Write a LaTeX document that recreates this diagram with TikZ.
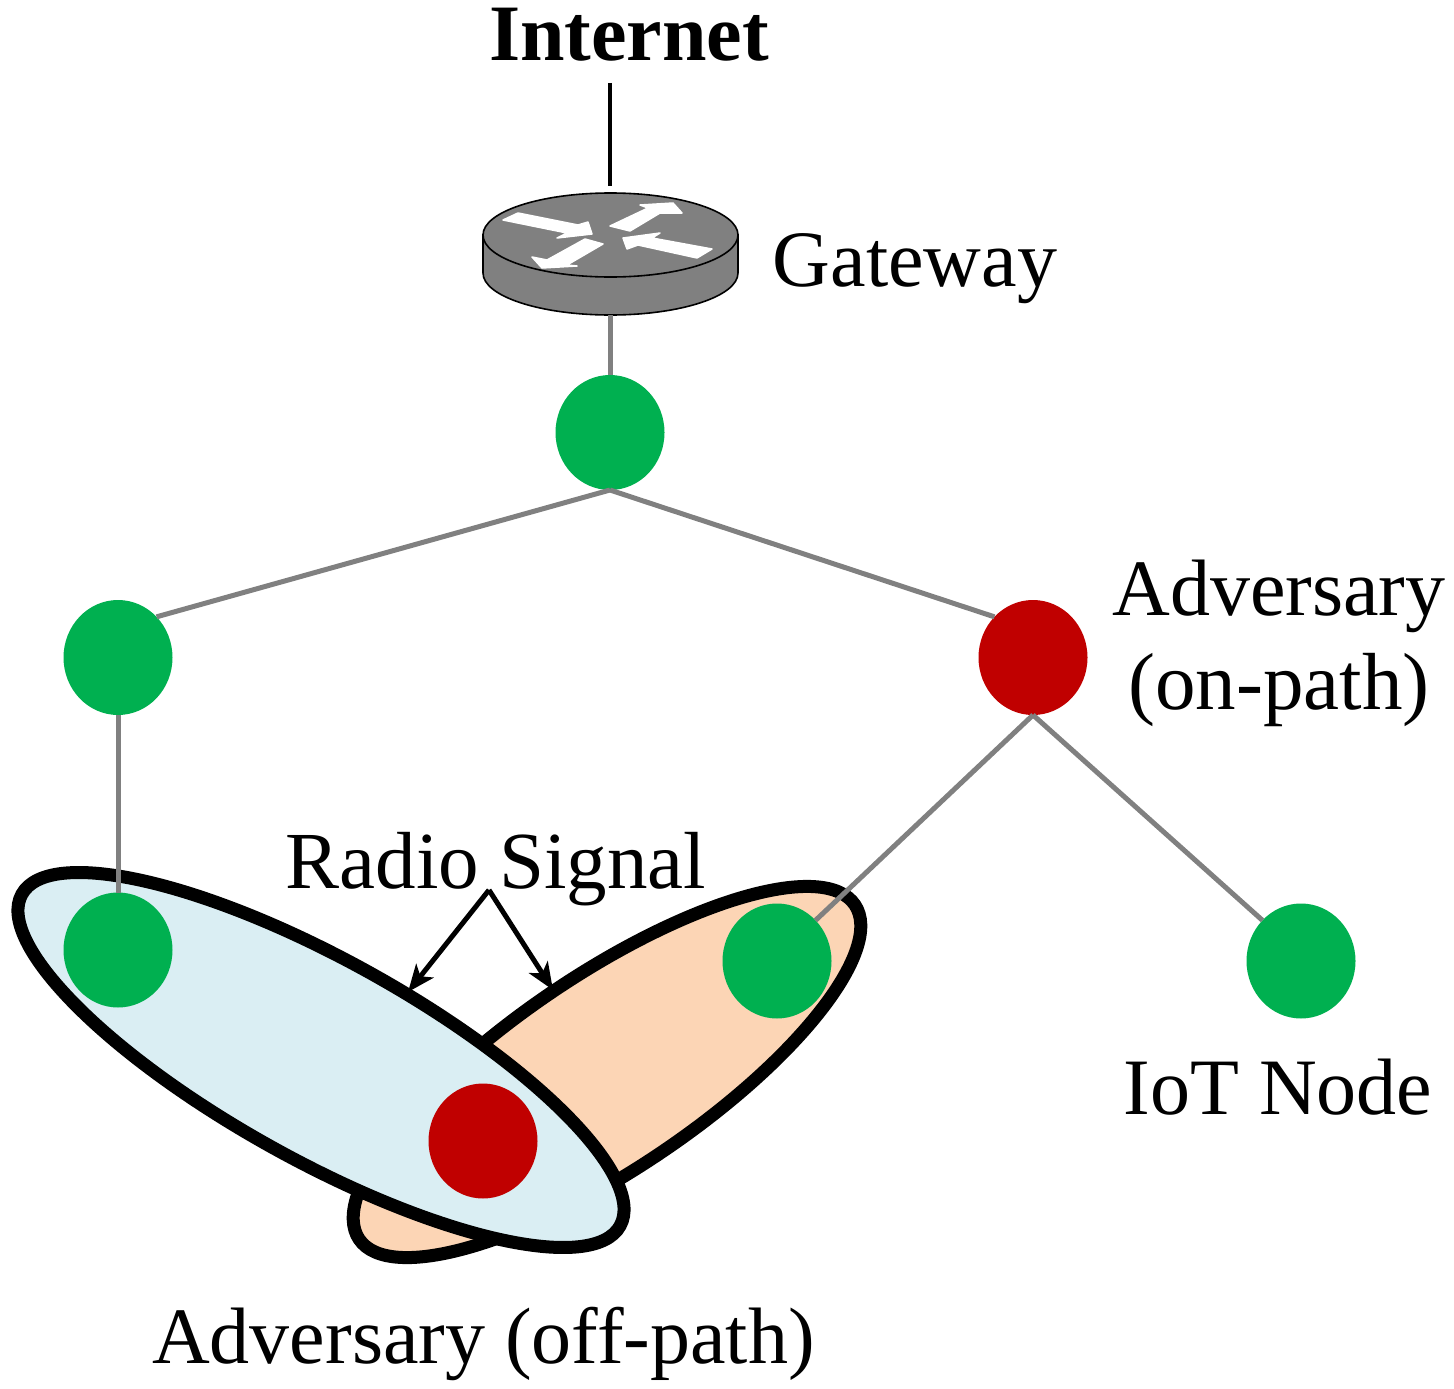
\documentclass[tikz,border=0pt]{standalone}
\usepackage{fontspec}
\setmainfont{Liberation Serif}
\usetikzlibrary{shapes.geometric,arrows.meta}
\definecolor{nodegreen}{HTML}{00B050}
\definecolor{nodered}{HTML}{C00000}
\definecolor{linkgray}{HTML}{808080}
\definecolor{radioblue}{HTML}{DAEEF3}
\definecolor{radioorange}{HTML}{FCD5B5}
\tikzset{
  iot/.style={ellipse,fill=nodegreen,draw=none,minimum width=109pt,minimum height=115pt,inner sep=0pt,outer sep=0pt},
  adv/.style={iot,fill=nodered},
  radio/.style={ellipse,draw=black,line width=13pt,inner sep=0pt,outer sep=0pt},
  link/.style={draw=linkgray,line width=5pt},
  lead/.style={draw=black,line width=4.5pt},
  pointer/.style={draw=black,line width=5pt,-{Stealth[length=27pt,width=22pt,inset=7pt]}},
  lab/.style={anchor=base,inner sep=0pt,font=\fontsize{80}{90}\selectfont},
  labwide/.style={lab,font=\fontsize{81}{90}\selectfont},
  routerpart/.style={fill=linkgray,draw=black,line width=1.6pt},
  routerarrow/.style={fill=white,draw=white,line width=1.5pt,line join=round}
}
\begin{document}
\begin{tikzpicture}[x=1pt,y=-1pt]
\useasboundingbox (0,0) rectangle (1454,1389);
% radio ranges
\node[radio,fill=radioorange,minimum width=598pt,minimum height=194pt,rotate=34] (rangeB) at (607,1072) {};
\node[radio,fill=radioblue,minimum width=684pt,minimum height=200pt,rotate=-29] (rangeA) at (321,1060) {};
% gateway
\path[routerpart] (483,235) -- (483,273) arc[start angle=180,end angle=360,x radius=127.5pt,y radius=42pt] -- (738,235) -- cycle;
\path[routerpart] (610.5,235) ellipse [x radius=127.5pt,y radius=42pt];
\coordinate (gwtop) at (610,186);
\coordinate (gwbottom) at (610,315);
\coordinate (inttop) at (610,83);
\path[routerarrow] (503,220) -- (518,213) -- (578,225) -- (588,222) -- (592,234) -- (557,238) -- (567,233) -- cycle;
\path[routerarrow] (610,226) -- (630,231) -- (660,213) -- (682,213) -- (673,203) -- (640,205) -- (648,208) -- cycle;
\path[routerarrow] (623,238) -- (660,233) -- (652,238) -- (712,249) -- (697,258) -- (638,245) -- (627,249) -- cycle;
\path[routerarrow] (585,239) -- (603,244) -- (567,265) -- (577,266) -- (542,268) -- (532,257) -- (547,260) -- cycle;
% nodes
\node[iot] (root) at (610,432.5) {};
\node[iot] (left) at (118,657.5) {};
\node[adv] (onpath) at (1033,657.5) {};
\node[iot] (leftleaf) at (118,950) {};
\node[iot] (midleaf) at (777,961) {};
\node[iot] (rightleaf) at (1301,961) {};
\node[adv] (offpath) at (483,1141) {};
% links
\draw[lead] (inttop) -- (gwtop);
\draw[link] (gwbottom) -- (root.north);
\draw[link] (root.south) -- (left.north east);
\draw[link] (root.south) -- (onpath.north west);
\draw[link] (left.south) -- (leftleaf.north);
\draw[link] (onpath.south) -- (midleaf.north east);
\draw[link] (onpath.south) -- (rightleaf.north west);
% labels
\node[lab,font=\fontsize{80}{90}\selectfont\bfseries] (internet) at (629,60) {Internet};
\node[lab] (gateway) at (915,286) {Gateway};
\node[lab] (advon1) at (1279,615) {Adversary};
\node[labwide] (advon2) at (1279,709) {(on-path)};
\node[labwide] (radiosig) at (496,888) {Radio Signal};
\node[lab] (iotnode) at (1278,1114) {IoT Node};
\node[lab] (advoff) at (483.5,1363) {Adversary (off-path)};
% radio pointers
\coordinate (apex) at (489,890);
\coordinate (hitA) at (408,992);
\coordinate (hitB) at (553,990);
\draw[pointer] (apex) -- (hitA);
\draw[pointer] (apex) -- (hitB);
\end{tikzpicture}
\end{document}
